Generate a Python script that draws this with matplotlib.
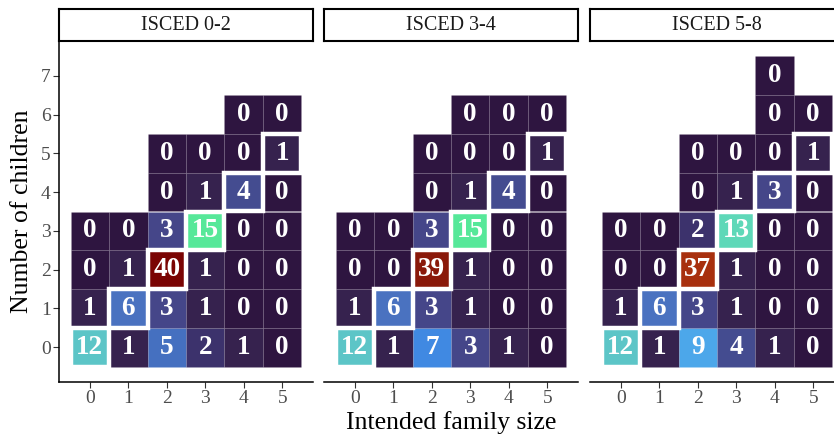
import matplotlib
matplotlib.use("Agg")
import matplotlib.pyplot as plt
from matplotlib.patches import Rectangle
from matplotlib import colors
import numpy as np

plt.rcParams['font.family'] = ['Liberation Serif', 'DejaVu Serif']

panels = ["ISCED 0-2", "ISCED 3-4", "ISCED 5-8"]

# rows = number of children (0..7), columns = intended family size (0..5)
# None = no tile
isced_02 = [
    [12, 1, 5, 2, 1, 0],
    [1, 6, 3, 1, 0, 0],
    [0, 1, 40, 1, 0, 0],
    [0, 0, 3, 15, 0, 0],
    [None, None, 0, 1, 4, 0],
    [None, None, 0, 0, 0, 1],
    [None, None, None, None, 0, 0],
    [None, None, None, None, None, None],
]
isced_34 = [
    [12, 1, 7, 3, 1, 0],
    [1, 6, 3, 1, 0, 0],
    [0, 0, 39, 1, 0, 0],
    [0, 0, 3, 15, 0, 0],
    [None, None, 0, 1, 4, 0],
    [None, None, 0, 0, 0, 1],
    [None, None, None, 0, 0, 0],
    [None, None, None, None, None, None],
]
isced_58 = [
    [12, 1, 9, 4, 1, 0],
    [1, 6, 3, 1, 0, 0],
    [0, 0, 37, 1, 0, 0],
    [0, 0, 2, 13, 0, 0],
    [None, None, 0, 1, 3, 0],
    [None, None, 0, 0, 0, 1],
    [None, None, None, None, 0, 0],
    [None, None, None, None, 0, None],
]
grids = [isced_02, isced_34, isced_58]

intended = [0, 1, 2, 3, 4, 5]
children = [0, 1, 2, 3, 4, 5, 6, 7]

# muted turbo-like palette
vmax = 40
anchors = [(0, "#2e1540"), (1, "#37234f"), (2, "#3d3470"), (3, "#45468a"),
           (4, "#444d90"), (5, "#4570c0"), (6, "#4a72c0"), (7, "#3f8ce6"),
           (9, "#4ca8ea"), (12, "#5cc6c6"), (13, "#5ed8b8"), (15, "#55e89a"),
           (20, "#a4f03c"), (27, "#f2c033"), (33, "#e0560f"), (37, "#a8300e"),
           (39, "#8b1a0a"), (40, "#7a0403")]
cmap = colors.LinearSegmentedColormap.from_list(
    "muted_turbo", [(v / vmax, c) for v, c in anchors])
norm = colors.Normalize(vmin=0, vmax=vmax)

W, H = 834, 437
fig = plt.figure(figsize=(W / 100, H / 100), dpi=100)

lefts = [59, 324, 590]
pw = 254
bottom, top = 382, 41
strip_top = 9

for k, (name, grid) in enumerate(zip(panels, grids)):
    ax = fig.add_axes([lefts[k] / W, (H - bottom) / H, pw / W, (bottom - top) / H])
    ax.set_xlim(-0.8, 5.8)
    ax.set_ylim(-0.9, 7.9)

    diag = []
    for j, y in enumerate(children):
        for i, x in enumerate(intended):
            v = grid[j][i]
            if v is None:
                continue
            if x == y:
                diag.append((x, y, v))
                continue
            ax.add_patch(Rectangle((x - 0.5, y - 0.5), 1, 1, facecolor=cmap(norm(v)),
                                   edgecolor=(1, 1, 1, 0.07), lw=0.5, zorder=1))
            ax.text(x, y, str(v), ha="center", va="center", color="white",
                    fontsize=19.5, fontweight="bold", zorder=4)
    for x, y, v in diag:
        ax.add_patch(Rectangle((x - 0.5, y - 0.5), 1, 1, facecolor=cmap(norm(v)),
                               edgecolor="white", lw=3.2, zorder=2))
        ax.text(x, y, str(v), ha="center", va="center", color="white",
                fontsize=19.5, fontweight="bold", zorder=4)

    ax.set_xticks(intended)
    ax.set_yticks(children)
    ax.tick_params(colors="#333333", labelsize=14, length=4, width=0.8, pad=2)
    for lab in ax.get_xticklabels() + ax.get_yticklabels():
        lab.set_color("#4d4d4d")
    for s in ["top", "right"]:
        ax.spines[s].set_visible(False)
    ax.spines["bottom"].set_linewidth(1.1)
    ax.spines["left"].set_linewidth(1.1)
    if k > 0:
        ax.spines["left"].set_visible(False)
        ax.tick_params(axis="y", left=False, labelleft=False)

    # facet strip
    sax = fig.add_axes([lefts[k] / W, (H - top) / H, pw / W, (top - strip_top) / H])
    sax.set_xticks([])
    sax.set_yticks([])
    for s in sax.spines.values():
        s.set_linewidth(1.5)
        s.set_color("black")
    sax.text(0.5, 0.5, name, ha="center", va="center", fontsize=14.5,
             color="#1a1a1a", transform=sax.transAxes)

fig.text(22 / W, 1 - ((top + bottom) / 2) / H, "Number of children", rotation=90,
         ha="center", va="center", fontsize=18.5)
fig.text((lefts[1] + pw / 2) / W, 1 - 423 / H, "Intended family size",
         ha="center", va="center", fontsize=18.5)

fig.savefig("out.png", dpi=100)
